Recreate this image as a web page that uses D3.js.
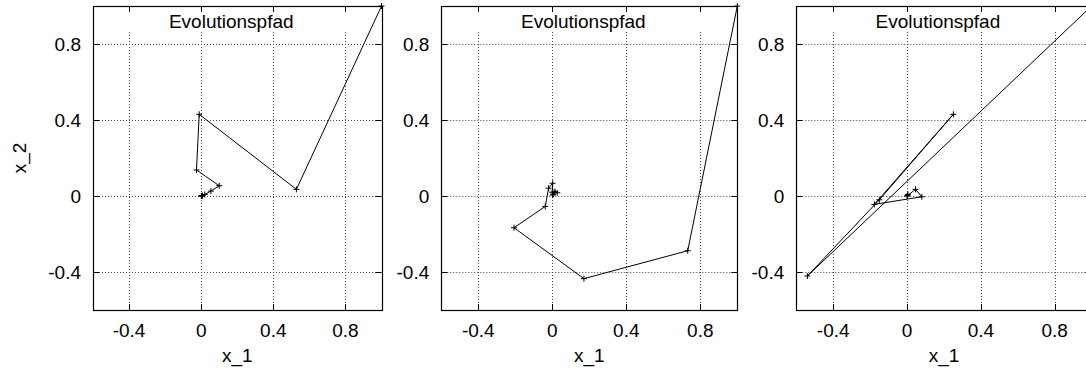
<!DOCTYPE html>
<html><head><meta charset="utf-8">
<script src="https://cdn.jsdelivr.net/npm/d3@7"></script>
<style>body{margin:0;background:#fff}svg{display:block}text{font-family:"Liberation Sans",Arial,sans-serif;fill:#000}</style>
</head><body><svg id="c" width="1086" height="374"></svg>
<script>
// data
const title = "Evolutionspfad";
const xLabel = "x_1", yLabel = "x_2";
const tickValues = [-0.4, 0, 0.4, 0.8];
const tickLabels = ["-0.4", "0", "0.4", "0.8"];
const path1X = [1.0, 0.528, -0.011, -0.026, 0.10, 0.054, 0.02, 0.007, 0.004, 0.002, 0.001];
const path1Y = [1.0, 0.035, 0.43, 0.137, 0.054, 0.026, 0.008, 0.002, 0.001, 0.0, 0.0];
const path2X = [1.0, 0.732, 0.171, -0.207, -0.038, -0.02, 0.002, 0.0, 0.015, 0.027, 0.01, 0.005, 0.002];
const path2Y = [1.0, -0.288, -0.435, -0.167, -0.055, 0.041, 0.067, 0.02, 0.023, 0.017, 0.02, 0.01, 0.005];
const path3X = [1.0, -0.54, -0.15, 0.251, -0.177, 0.08, 0.046, 0.0, 0.005, 0.002];
const path3Y = [1.0, -0.421, -0.02, 0.43, -0.044, -0.004, 0.035, 0.0, 0.008, 0.002];

(function () {
const panels = [
  {l: 93, r: 381.5, xs: path1X, ys: path1Y, ylab: true},
  {l: 441.3, r: 737.3, xs: path2X, ys: path2Y},
  {l: 796.3, r: 1091.6, xs: path3X, ys: path3Y}
];
const yTop = 6, yBot = 310;
const svg = d3.select("#c");
const y = d3.scaleLinear().domain([-0.6, 1.0]).range([yBot, yTop]);

panels.forEach(p => {
  const x = d3.scaleLinear().domain([-0.6, 1.0]).range([p.l, p.r]);
  const g = svg.append("g");
  // grid
  g.selectAll(".gx").data(tickValues).enter().append("line")
    .attr("x1", d => Math.round(x(d)) + 0.5).attr("x2", d => Math.round(x(d)) + 0.5)
    .attr("y1", 32).attr("y2", yBot)
    .attr("stroke", "#444").attr("stroke-dasharray", "1,2");
  g.selectAll(".gy").data(tickValues).enter().append("line")
    .attr("y1", d => Math.round(y(d)) + 0.5).attr("y2", d => Math.round(y(d)) + 0.5)
    .attr("x1", p.l).attr("x2", p.r)
    .attr("stroke", "#444").attr("stroke-dasharray", "1,2");
  // inner ticks
  tickValues.forEach(v => {
    const xx = Math.round(x(v)) + 0.5, yy = Math.round(y(v)) + 0.5;
    g.append("line").attr("x1", xx).attr("x2", xx).attr("y1", yTop).attr("y2", yTop + 6).attr("stroke", "#000");
    g.append("line").attr("x1", xx).attr("x2", xx).attr("y1", yBot).attr("y2", yBot - 6).attr("stroke", "#000");
    g.append("line").attr("y1", yy).attr("y2", yy).attr("x1", p.l).attr("x2", p.l + 6).attr("stroke", "#000");
    g.append("line").attr("y1", yy).attr("y2", yy).attr("x1", p.r).attr("x2", p.r - 6).attr("stroke", "#000");
  });
  // box
  g.append("rect").attr("x", Math.round(p.l) + 0.5).attr("y", yTop + 0.5)
    .attr("width", Math.round(p.r) - Math.round(p.l)).attr("height", yBot - yTop)
    .attr("fill", "none").attr("stroke", "#000").attr("stroke-width", 1.2);
  // tick labels
  g.selectAll(".tx").data(tickValues).enter().append("text")
    .attr("x", d => x(d)).attr("y", 337).attr("text-anchor", "middle")
    .attr("font-size", 19).text((d, i) => tickLabels[i]);
  g.selectAll(".ty").data(tickValues).enter().append("text")
    .attr("x", p.l - 12).attr("y", d => y(d)).attr("dy", "0.35em").attr("text-anchor", "end")
    .attr("font-size", 19).text((d, i) => tickLabels[i]);
  // title and axis labels
  const cx = (p.l + p.r) / 2;
  g.append("text").attr("x", cx - 6).attr("y", 28).attr("text-anchor", "middle")
    .attr("font-size", 19).text(title);
  g.append("text").attr("x", cx).attr("y", 362).attr("text-anchor", "middle")
    .attr("font-size", 19).text(xLabel);
  if (p.ylab) {
    g.append("text").attr("transform", `translate(26,${(yTop + yBot) / 2}) rotate(-90)`)
      .attr("text-anchor", "middle").attr("font-size", 19).text(yLabel);
  }
  // path
  const pts = p.xs.map((v, i) => [v, p.ys[i]]);
  const line = d3.line().x(d => x(d[0])).y(d => y(d[1]));
  g.append("path").attr("d", line(pts)).attr("fill", "none").attr("stroke", "#000").attr("stroke-width", 1);
  g.selectAll(".m").data(pts).enter().append("path")
    .attr("d", d => { const px = x(d[0]), py = y(d[1]); return `M${px-3},${py}H${px+3}M${px},${py-3}V${py+3}`; })
    .attr("stroke", "#000").attr("stroke-width", 1);
});
})();
</script></body></html>
